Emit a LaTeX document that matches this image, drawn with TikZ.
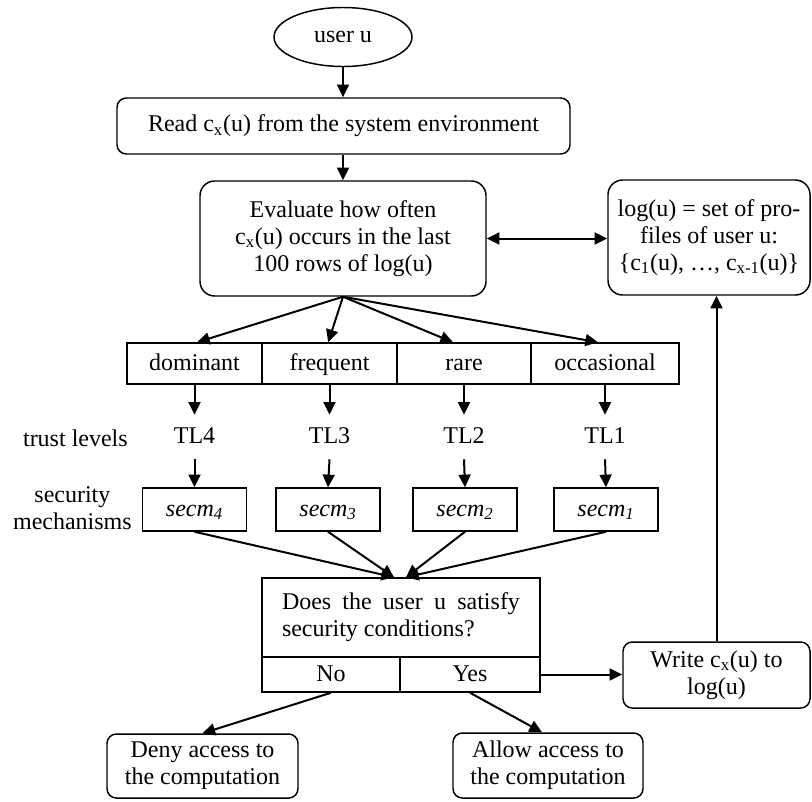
\documentclass[tikz,border=0pt]{standalone}
\usepackage{fontspec}
\setmainfont{Liberation Serif}
\usetikzlibrary{shapes.geometric,arrows.meta,calc}
\begin{document}
\begin{tikzpicture}[x=0.75pt,y=-0.75pt,
  >={Triangle[length=9.5pt,width=9pt]},
  every node/.style={font=\fontsize{18}{20.25}\selectfont, inner sep=0pt},
  box/.style={draw, line width=1.1pt, align=center},
  rbox/.style={box, rounded corners=7pt},
  oneline/.style={text height=14pt, text depth=4pt},
  arr/.style={line width=1.5pt, ->},
  darr/.style={line width=1.5pt, <->},
]
\useasboundingbox (0,0) rectangle (812,801);

% top part
\node[draw, line width=1.1pt, ellipse, minimum width=103.5pt, minimum height=44.25pt] (user) at (343,37) {user u};
\node[rbox, minimum width=339.75pt, minimum height=42pt] (read) at (343.5,126) {Read c\textsubscript{x}(u) from the system environment};
\node[rbox, rounded corners=11pt, minimum width=214.5pt, minimum height=86.25pt] (eval) at (343,238.5) {Evaluate how often\\c\textsubscript{x}(u) occurs in the last\\100 rows of log(u)};
\node[rbox, rounded corners=11pt, minimum width=151.5pt, minimum height=86.25pt] (log) at (709,237.5) {log(u) = set of pro-\\files of user u:\\\{c\textsubscript{1}(u), …, c\textsubscript{x-1}(u)\}};

% categories
\node[box, oneline, minimum width=101.25pt, minimum height=30.75pt] (dom) at (194.5,363.5) {dominant};
\node[box, oneline, minimum width=101.25pt, minimum height=30.75pt] (freq) at (329.5,363.5) {frequent};
\node[box, oneline, minimum width=100.5pt, minimum height=30.75pt] (rare) at (464,363.5) {rare};
\node[box, oneline, minimum width=111pt, minimum height=30.75pt] (occ) at (605,363.5) {occasional};

% trust levels
\node[anchor=east, oneline] (tl) at (128,440) {trust levels};
\node[oneline, minimum height=33pt] (tl4) at (194.5,437) {TL4};
\node[oneline, minimum height=33pt] (tl3) at (329.5,437) {TL3};
\node[oneline, minimum height=33pt] (tl2) at (464,437) {TL2};
\node[oneline, minimum height=33pt] (tl1) at (605,437) {TL1};

% security mechanisms
\node[anchor=east, align=center] (sm) at (132,508.5) {security\\mechanisms};
\node[box, oneline, minimum width=78pt, minimum height=32.25pt] (s4) at (194.5,509.5) {\textit{secm\textsubscript{4}}};
\node[box, oneline, minimum width=78pt, minimum height=32.25pt] (s3) at (328,509.5) {\textit{secm\textsubscript{3}}};
\node[box, oneline, minimum width=78pt, minimum height=32.25pt] (s2) at (465,509.5) {\textit{secm\textsubscript{2}}};
\node[box, oneline, minimum width=78pt, minimum height=32.25pt] (s1) at (606,509.5) {\textit{secm\textsubscript{1}}};

% question
\node[draw, line width=1.1pt, minimum width=208.5pt, minimum height=59.25pt] (q) at (401,617.5) {\parbox{178.5pt}{Does the user u satisfy security conditions?}};
\node[box, oneline, minimum width=103.5pt, minimum height=26.25pt] (no) at (331,674.5) {No};
\node[box, oneline, minimum width=105pt, minimum height=26.25pt] (yes) at (470,674.5) {Yes};

% results
\node[rbox, minimum width=140.25pt, minimum height=49.5pt] (write) at (716.5,675) {Write c\textsubscript{x}(u) to\\log(u)};
\node[rbox, minimum width=143.25pt, minimum height=48pt] (deny) at (202.5,766) {Deny access to\\the computation};
\node[rbox, minimum width=142.5pt, minimum height=48.75pt] (allow) at (548,765.5) {Allow access to\\the computation};

% connectors
\draw[arr] (user.south) -- (user.south |- read.north);
\draw[arr] (eval.north |- read.south) -- (eval.north);
\draw[darr] (eval.east) -- (eval.east -| log.west);
\draw[arr] (eval.south) -- ([xshift=1.9pt]dom.north);
\draw[arr] (eval.south) -- ([xshift=-1pt]freq.north);
\draw[arr] (eval.south) -- ([xshift=-8.25pt]rare.north);
\draw[arr] (eval.south) -- ([xshift=-5.25pt]occ.north);
\foreach \c/\t/\s in {dom/tl4/s4, freq/tl3/s3, rare/tl2/s2, occ/tl1/s1} {
  \draw[arr] (\c.south) -- (\t.north);
  \draw[arr] (\t.south) -- (\s.north);
}
\draw[arr] (s4.south) -- ([xshift=-5.25pt]q.north);
\draw[arr] (s3.south) -- ([xshift=-5.25pt]q.north);
\draw[arr] (s2.south) -- ([xshift=3.75pt]q.north);
\draw[arr] (s1.south) -- ([xshift=3.75pt]q.north);
\draw[arr] (no.south) -- (deny.north);
\draw[arr] (yes.south) -- ([xshift=-4.5pt]allow.north);
\draw[arr] (yes.east) -- (yes.east -| write.west);
\draw[arr] (write.north) -- (write.north |- log.south);
\end{tikzpicture}
\end{document}
